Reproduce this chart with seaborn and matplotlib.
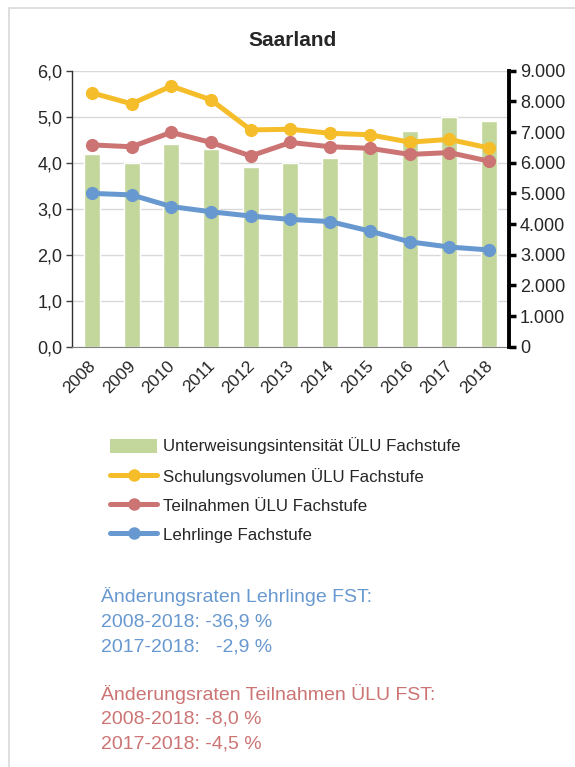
import numpy as np
import pandas as pd
import matplotlib
matplotlib.use("Agg")
import matplotlib.pyplot as plt
import matplotlib.transforms as mtransforms
import seaborn as sns
from matplotlib.lines import Line2D
from matplotlib.patches import Rectangle
from matplotlib.ticker import FuncFormatter, FixedLocator

# Data
years = ["2008", "2009", "2010", "2011", "2012", "2013", "2014", "2015", "2016", "2017", "2018"]
intensitaet = [4.2, 4.0, 4.4, 4.3, 3.9, 4.0, 4.1, 4.35, 4.7, 5.0, 4.9]
schulungsvolumen = [8280, 7920, 8500, 8050, 7070, 7090, 6960, 6910, 6670, 6760, 6480]
teilnahmen = [6580, 6520, 6990, 6660, 6220, 6660, 6520, 6470, 6270, 6330, 6050]
lehrlinge = [5000, 4950, 4570, 4400, 4260, 4150, 4080, 3770, 3420, 3250, 3155]

labels = ["Unterweisungsintensität ÜLU Fachstufe",
          "Schulungsvolumen ÜLU Fachstufe",
          "Teilnahmen ÜLU Fachstufe",
          "Lehrlinge Fachstufe"]
notes_blue = ["Änderungsraten Lehrlinge FST:", "2008-2018: -36,9 %", "2017-2018:   -2,9 %"]
notes_red = ["Änderungsraten Teilnahmen ÜLU FST:", "2008-2018: -8,0 %", "2017-2018: -4,5 %"]

c_bar = "#c3d69b"
c_yel = "#f6bd2a"
c_red = "#cc7474"
c_blue = "#6898d0"

df = pd.DataFrame({
    "pos": np.arange(len(years)),
    "year": years,
    "intensitaet": intensitaet,
    "schulung": schulungsvolumen,
    "teilnahmen": teilnahmen,
    "lehrlinge": lehrlinge,
})

sns.set_style("white")
plt.rcParams["font.family"] = ["Liberation Sans", "DejaVu Sans"]

fig = plt.figure(figsize=(5.75, 7.67), dpi=100)
ax = fig.add_axes([0.1252, 0.548, 0.7598, 0.3598])

# outer frame
fig.patches.append(Rectangle((9 / 575, -0.01), 1.0, 1 - 8 / 767 + 0.01,
                             transform=fig.transFigure, fill=False,
                             edgecolor="#d9d9d9", linewidth=1.2))

sns.barplot(data=df, x="pos", y="intensitaet", color=c_bar, width=0.4,
            saturation=1, ax=ax, zorder=2)
ax.set_ylim(0, 6)
ax.set_xlim(-0.5, len(years) - 0.5)
ax.yaxis.set_major_locator(FixedLocator(np.arange(0, 6.01, 1)))
ax.yaxis.set_major_formatter(FuncFormatter(lambda v, p: f"{v:.1f}".replace(".", ",")))
ax.grid(axis="y", color="#d9d9d9", linewidth=1, zorder=0)
ax.set_axisbelow(True)
ax.set_xlabel("")
ax.set_ylabel("")

ax.set_xticks(np.arange(len(years)))
ax.set_xticklabels(years, rotation=45, ha="right", rotation_mode="anchor", fontsize=12.5)
ax.tick_params(axis="x", length=0, pad=8)
shift = mtransforms.ScaledTranslation(-4 / 100, 0, fig.dpi_scale_trans)
for lbl in ax.get_xticklabels():
    lbl.set_transform(lbl.get_transform() + shift)
ax.set_xticks(np.arange(-0.5, len(years), 1), minor=True)
ax.tick_params(axis="x", which="minor", length=4, color="#808080", width=1)
ax.tick_params(axis="y", length=4, color="#404040", width=1, labelsize=13, pad=3)

for s in ["top", "right"]:
    ax.spines[s].set_visible(False)
ax.spines["left"].set_color("#303030")
ax.spines["bottom"].set_color("#808080")
ax.spines["left"].set_linewidth(1)

ax2 = ax.twinx()
for col, c in [("schulung", c_yel), ("teilnahmen", c_red), ("lehrlinge", c_blue)]:
    sns.lineplot(data=df, x="pos", y=col, color=c, linewidth=3.6, marker="o",
                 markersize=9.5, markeredgewidth=0, ax=ax2, zorder=3)
ax2.set_ylim(0, 9000)
ax2.set_xlim(-0.5, len(years) - 0.5)
ax2.yaxis.set_major_locator(FixedLocator(np.arange(0, 9001, 1000)))
ax2.yaxis.set_major_formatter(FuncFormatter(lambda v, p: f"{int(v):,}".replace(",", ".")))
ax2.set_ylabel("")
ax2.set_xlabel("")
ax2.tick_params(axis="y", length=5, width=2.5, color="black", labelsize=13, pad=3)
for s in ["top", "left", "bottom"]:
    ax2.spines[s].set_visible(False)
ax2.spines["right"].set_linewidth(2.8)
ax2.spines["right"].set_color("black")

fig.text(292.5 / 575, 1 - 40 / 767, "Saarland", ha="center", va="center",
         fontsize=15, fontweight="bold")

# legend
handles = [
    Rectangle((0, 0), 1, 1, facecolor=c_bar, edgecolor="none"),
    Line2D([], [], color=c_yel, lw=3.6, marker="o", markersize=9, markeredgewidth=0),
    Line2D([], [], color=c_red, lw=3.6, marker="o", markersize=9, markeredgewidth=0),
    Line2D([], [], color=c_blue, lw=3.6, marker="o", markersize=9, markeredgewidth=0),
]
fig.legend(handles, labels, loc="upper left", bbox_to_anchor=(0.1795, 0.4385),
           frameon=False, fontsize=12.2, handlelength=2.8, handleheight=0.9,
           handletextpad=0.3, labelspacing=0.78, numpoints=1, borderaxespad=0)

# notes
y0 = 767 - 597
for i, t in enumerate(notes_blue):
    fig.text(101 / 575, (y0 - 25 * i) / 767, t, color=c_blue, fontsize=14, va="center")
y1 = 767 - 694
for i, t in enumerate(notes_red):
    fig.text(101 / 575, (y1 - 25 * i) / 767, t, color=c_red, fontsize=14, va="center")

fig.savefig("out.png", dpi=100)
